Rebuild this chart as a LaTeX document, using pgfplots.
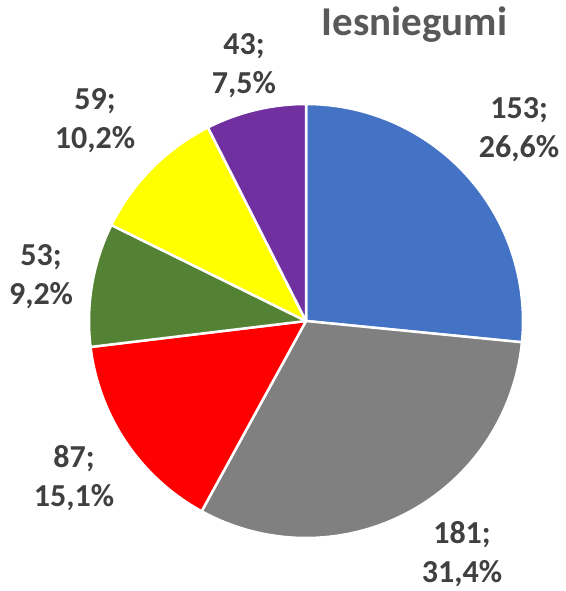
\documentclass[border=0pt]{standalone}
\usepackage{pgfplots}
\usepackage{pgfplotstable}
\pgfplotsset{compat=1.18}
\usepackage{fontspec}
\setmainfont{Carlito}
\definecolor{pie0}{HTML}{4472C4}
\definecolor{pie1}{HTML}{808080}
\definecolor{pie2}{HTML}{FF0000}
\definecolor{pie3}{HTML}{548235}
\definecolor{pie4}{HTML}{FFFF00}
\definecolor{pie5}{HTML}{7030A0}
\definecolor{labtxt}{HTML}{404040}
\definecolor{titletxt}{HTML}{595959}

\pgfplotstableread{
val lx ly
153 0.982 0.880
181 0.719 -1.076
87 -1.069 -0.724
53 -1.221 0.203
59 -0.972 0.922
43 -0.286 1.175
}\piedata
\pgfplotstablecreatecol[create col/expr accum={\pgfmathaccuma+\thisrow{val}}{0}]{cum}\piedata
\pgfplotstablegetelem{5}{cum}\of\piedata
\edef\total{\pgfplotsretval}
\pgfplotsforeachungrouped \i in {0,...,5}{%
  \pgfplotstablegetelem{\i}{val}\of\piedata \let\v\pgfplotsretval
  \pgfplotstablegetelem{\i}{cum}\of\piedata \let\c\pgfplotsretval
  \pgfplotstablegetelem{\i}{lx}\of\piedata \let\lx\pgfplotsretval
  \pgfplotstablegetelem{\i}{ly}\of\piedata \let\ly\pgfplotsretval
  \pgfmathsetmacro\s{90-(\c-\v)/\total*360}%
  \pgfmathsetmacro\e{90-\c/\total*360}%
  \pgfmathsetmacro\p{\v/\total*100}%
  \pgfmathprintnumberto[fixed,precision=1,fixed zerofill,use comma,assume math mode=true]{\p}\pstr
  \expandafter\xdef\csname aS\i\endcsname{\s}%
  \expandafter\xdef\csname aE\i\endcsname{\e}%
  \expandafter\xdef\csname lx\i\endcsname{\lx}%
  \expandafter\xdef\csname ly\i\endcsname{\ly}%
  \expandafter\xdef\csname val\i\endcsname{\v}%
  \expandafter\global\expandafter\let\csname pct\i\endcsname\pstr
}

\begin{document}
\begin{tikzpicture}
\useasboundingbox (0,0) rectangle (566bp,591bp);
\begin{axis}[
  at={(306bp,270bp)}, anchor=center,
  scale only axis, width=434bp, height=434bp,
  xmin=-1, xmax=1, ymin=-1, ymax=1,
  hide axis, clip=false,
]
\pgfplotsinvokeforeach{0,...,5}{%
  \addplot[fill=pie#1, draw=white, line width=2.5bp, line join=round,
    domain=\csname aE#1\endcsname:\csname aS#1\endcsname, samples=120, variable=\t]
    ({cos(\t)},{sin(\t)}) -- (axis cs:0,0) -- cycle;
}
\pgfplotsinvokeforeach{0,...,5}{%
  \node[align=center, text=labtxt, inner sep=0pt, font={\fontsize{32bp}{39bp}\selectfont\bfseries}]
    at (axis cs:\csname lx#1\endcsname,\csname ly#1\endcsname)
    {\csname val#1\endcsname;\\\csname pct#1\endcsname\%};
}
\end{axis}
\node[anchor=base, text=titletxt, inner sep=0pt, font={\fontsize{41bp}{48bp}\selectfont\bfseries}]
  at (414.5bp,555bp) {Iesniegumi};
\end{tikzpicture}
\end{document}
